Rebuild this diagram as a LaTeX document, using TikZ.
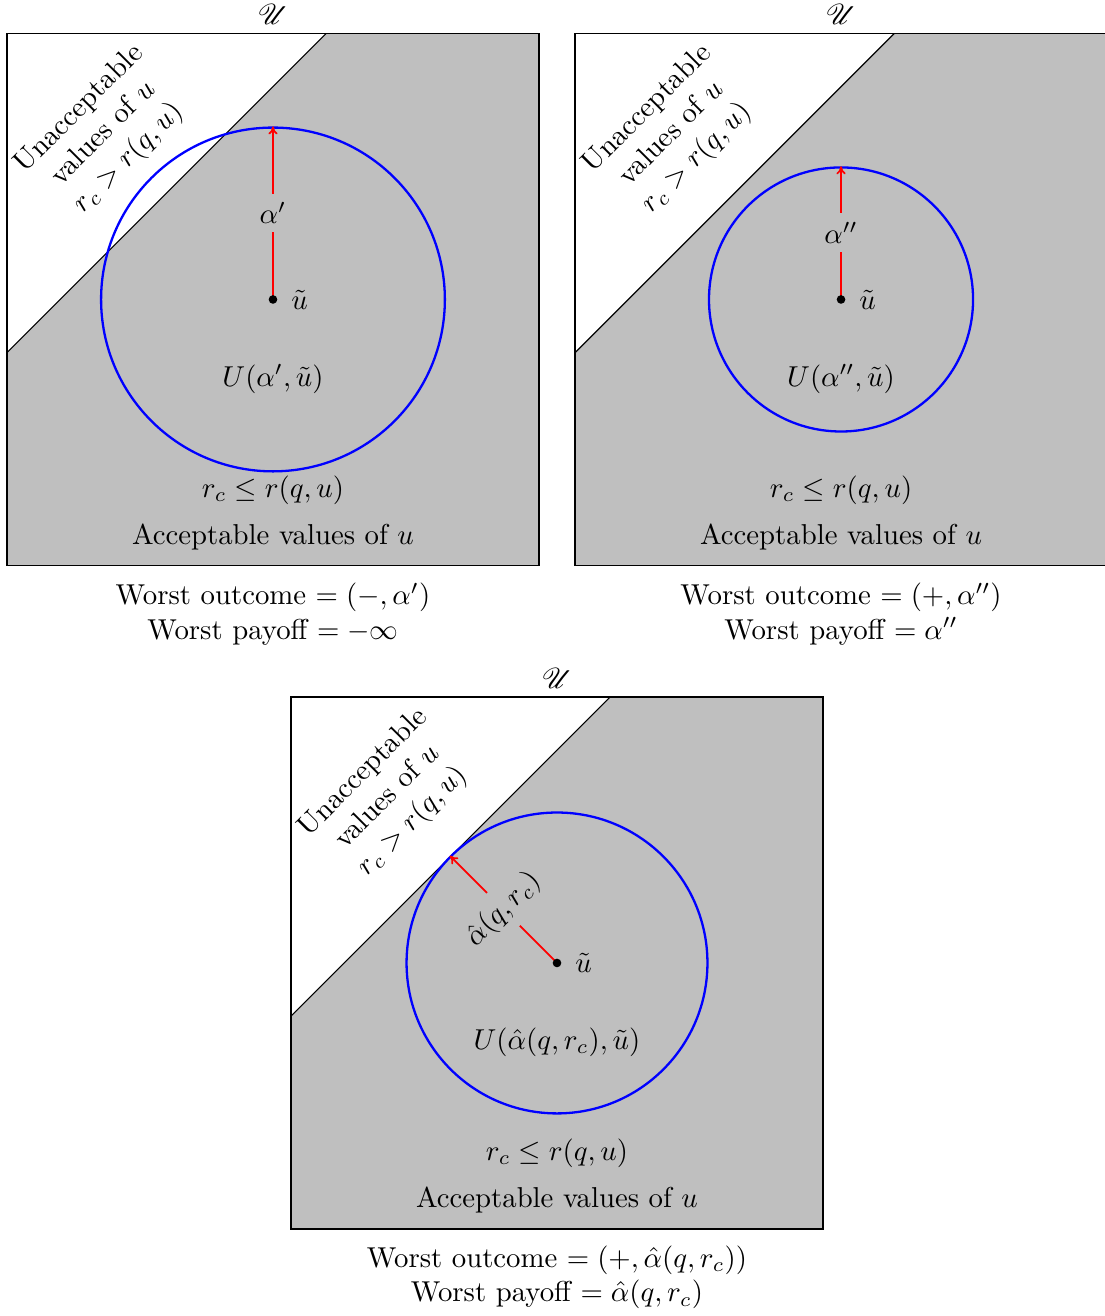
\documentclass[tikz,border=0pt]{standalone}
\usepackage{xcolor}
\usepackage{tikz}
\usetikzlibrary{arrows.meta,positioning,calc}
\usepackage{amssymb}
\usepackage{mathrsfs}
\definecolor{cgray}{HTML}{BFBFBF}
\definecolor{cblue}{HTML}{0000FF}
\definecolor{cred}{HTML}{FF0000}

\begin{document}
\begin{tikzpicture}[
  ball/.style={circle,draw=cblue,thick,inner sep=0pt},
  radius arrow/.style={-{To[length=2.8pt,width=3.2pt]},draw=cred,semithick},
  radius label/.style={fill=cgray,inner sep=3pt}]
  \useasboundingbox (0,0) rectangle (13.488,16.078);
  \foreach \nm/\cx/\cy/\rad/\ang/\lab/\wo/\wp in {
      a/3.335/12.419/2.1/90/{\alpha'}/{-,\alpha'}/{-\infty},
      b/10.275/12.419/1.613/90/{\alpha''}/{+,\alpha''}/{\alpha''},
      c/6.805/4.313/1.838/135/{\hat\alpha(q,r_c)}/{+,\hat\alpha(q,r_c)}/{\hat\alpha(q,r_c)}} {
    \begin{scope}[shift={(\cx,\cy)}]
      % acceptable region and its edge
      \fill[cgray] (-3.25,-3.25) -- (-3.25,-0.65) -- (0.65,3.25) -- (3.25,3.25) -- (3.25,-3.25) -- cycle;
      \draw (-3.25,-0.65) -- (0.65,3.25);
      \coordinate (c\nm) at (0,0);
      \node[ball,minimum size={2*\rad*1cm}] (u\nm) at (c\nm) {};
      \draw[radius arrow] (c\nm) -- node[radius label,rotate=\ang-90] (l\nm) {$\lab$} (u\nm.\ang);
      \fill (c\nm) circle (1.5pt);
      \node (ut\nm) [right=1mm of c\nm] {$\tilde u$};
      \node (set\nm) at (0,-0.97) {$U(\lab,\tilde u)$};
      \node (ok\nm) at (0,-2.327) {$r_c \le r(q,u)$};
      \node (acc\nm) at (0,-2.9) {Acceptable values of $u$};
      \node[rotate=45,align=center] (bad\nm) at (-2.06,2.02) {Unacceptable\\values of $u$\\$r_c > r(q,u)$};
      \node[draw,minimum size=6.5cm,inner sep=0pt] (box\nm) at (0,0) {};
      \node (cal\nm) at (0,3.48) {$\mathscr{U}$};
      \node[align=center] (res\nm) at (0,-3.843) {Worst outcome $= (\wo)$\\Worst payoff $= \wp$};
    \end{scope}
  }
\end{tikzpicture}
\end{document}
